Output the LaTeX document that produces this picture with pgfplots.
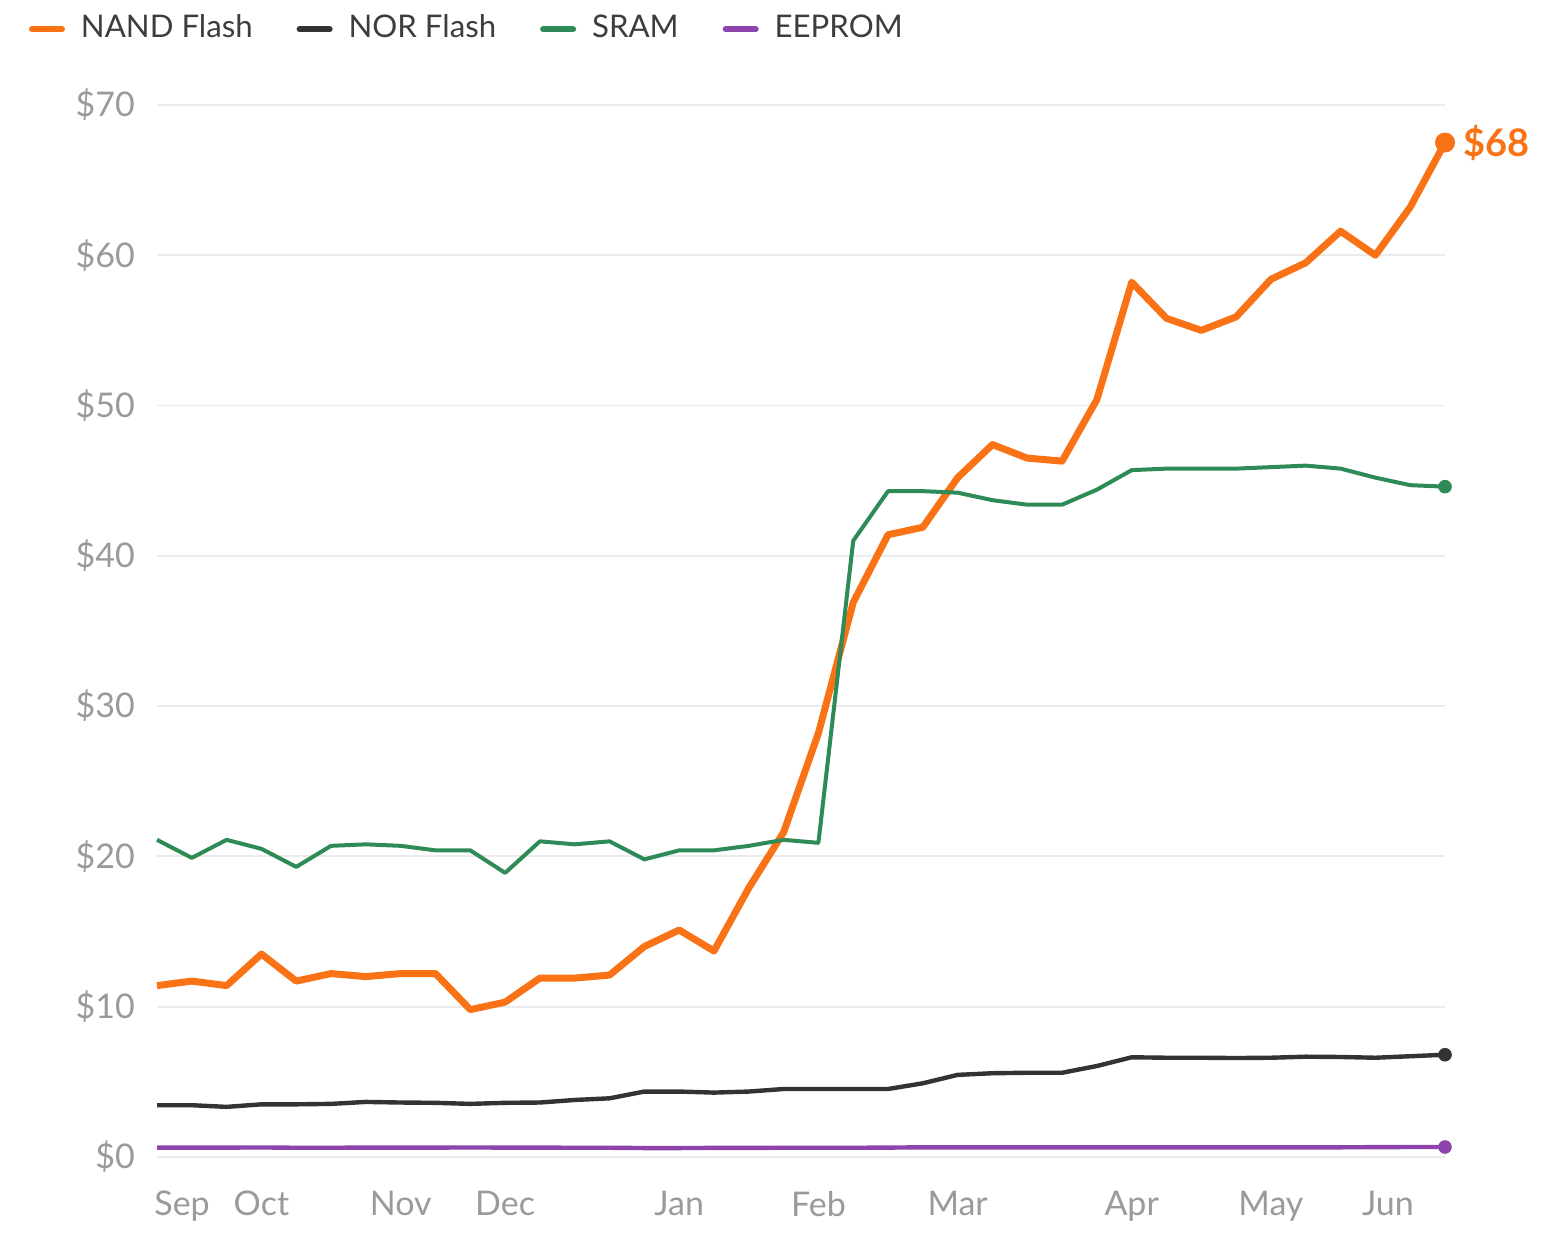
\documentclass[border=0pt]{standalone}
\usepackage{fontspec}
\setmainfont{Lato}
\usepackage{pgfplots}
\pgfplotsset{compat=1.18}

\definecolor{nand}{HTML}{F97316}
\definecolor{nor}{HTML}{333333}
\definecolor{sram}{HTML}{2E8B57}
\definecolor{eeprom}{HTML}{8E44AD}
\definecolor{gridc}{HTML}{EBEBEB}
\definecolor{tickc}{HTML}{9A9A9A}

% weekly prices, index 0 = first week of Sep
\pgfplotstableread{
i nand sram nor eeprom
0 11.4 21.1 3.44 0.62
1 11.7 19.9 3.44 0.62
2 11.4 21.1 3.33 0.62
3 13.5 20.5 3.50 0.63
4 11.7 19.3 3.50 0.61
5 12.2 20.7 3.53 0.61
6 12.0 20.8 3.66 0.62
7 12.2 20.7 3.62 0.62
8 12.2 20.4 3.60 0.62
9 9.8 20.4 3.53 0.63
10 10.3 18.9 3.60 0.62
11 11.9 21.0 3.62 0.62
12 11.9 20.8 3.79 0.61
13 12.1 21.0 3.90 0.61
14 14.0 19.8 4.35 0.59
15 15.1 20.4 4.35 0.59
16 13.7 20.4 4.28 0.60
17 17.9 20.7 4.35 0.60
18 21.6 21.1 4.52 0.61
19 28.2 20.9 4.52 0.61
20 36.9 41.0 4.52 0.61
21 41.4 44.3 4.52 0.62
22 41.9 44.3 4.90 0.64
23 45.2 44.2 5.46 0.64
24 47.4 43.7 5.57 0.64
25 46.5 43.4 5.60 0.64
26 46.3 43.4 5.60 0.64
27 50.4 44.4 6.05 0.64
28 58.2 45.7 6.63 0.64
29 55.8 45.8 6.60 0.64
30 55.0 45.8 6.60 0.64
31 55.9 45.8 6.58 0.64
32 58.4 45.9 6.60 0.64
33 59.5 46.0 6.67 0.64
34 61.6 45.8 6.65 0.64
35 60.0 45.2 6.60 0.65
36 63.2 44.7 6.70 0.66
37 67.5 44.6 6.80 0.66
}\prices

\begin{document}
\begin{tikzpicture}
\begin{axis}[
  scale only axis,
  width=322pt, height=263pt,
  xmin=0, xmax=37, ymin=0, ymax=70,
  axis line style={draw=none},
  clip=false,
  xtick={0.72,3,7,10,15,19,23,28,32,35.36},
  xticklabels={Sep,Oct,Nov,Dec,Jan,Feb,Mar,Apr,May,Jun},
  ytick={0,10,...,70},
  yticklabel={\$\pgfmathprintnumber{\tick}},
  /pgf/number format/assume math mode=true,
  ymajorgrids, grid style={gridc, line width=0.45pt},
  major tick length=0pt,
  tick label style={tickc, font=\fontsize{8.5}{10}\selectfont},
  xticklabel style={yshift=-5pt},
  yticklabel style={xshift=-2pt},
  legend columns=4,
  legend style={draw=none, fill=none, at={(rel axis cs:-0.100,1.072)}, anchor=west,
    font=\fontsize{7.8}{10}\selectfont, text=nor!95,
    /tikz/every odd column/.append style={column sep=2pt},
    /tikz/every even column/.append style={column sep=9pt},
    inner sep=0pt, row sep=0pt},
  legend image code/.code={\draw[#1, line width=1.5pt, line cap=round] (0pt,0pt) -- (7.5pt,0pt);},
]
\path (rel axis cs:-0.1219,-0.0618) rectangle (rel axis cs:1.0916,1.0998);
\addplot[nand, line width=1.75pt, line join=round] table[x=i, y=nand] {\prices};
\addlegendentry{NAND Flash}
\addplot[nor, line width=1.1pt, line join=round] table[x=i, y=nor] {\prices};
\addlegendentry{NOR Flash}
\addplot[sram, line width=1pt, line join=round] table[x=i, y=sram] {\prices};
\addlegendentry{SRAM}
\addplot[eeprom, line width=1.1pt, line join=round] table[x=i, y=eeprom] {\prices};
\addlegendentry{EEPROM}
\addplot[nand, only marks, mark=*, mark size=2.3pt, forget plot] coordinates {(37,67.5)};
\addplot[nor, only marks, mark=*, mark size=1.5pt, forget plot] coordinates {(37,6.80)};
\addplot[sram, only marks, mark=*, mark size=1.5pt, forget plot] coordinates {(37,44.6)};
\addplot[eeprom, only marks, mark=*, mark size=1.5pt, forget plot] coordinates {(37,0.66)};
\node[anchor=west, text=nand, font=\fontsize{9.5}{11}\selectfont\bfseries, inner sep=0pt, xshift=4.5pt]
  at (axis cs:37,67.5) {\$68};
\end{axis}
\end{tikzpicture}
\end{document}
